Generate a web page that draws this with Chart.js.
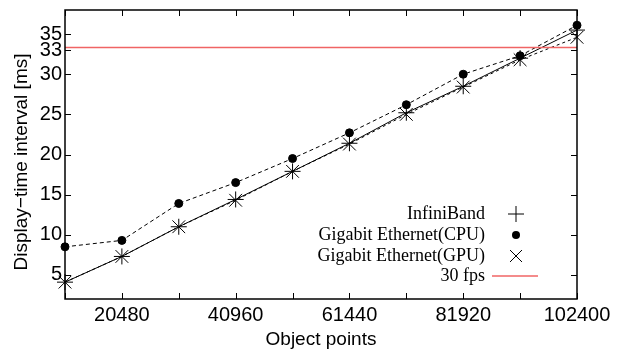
<!DOCTYPE html>
<html>
<head>
<meta charset="utf-8">
<script src="https://cdn.jsdelivr.net/npm/chart.js@4.4.1/dist/chart.umd.min.js"></script>
<style>
html,body{margin:0;padding:0;background:#fff;}
#wrap{width:621px;height:356px;}
</style>
</head>
<body>
<div id="wrap"><canvas id="c" width="621" height="356"></canvas></div>
<script>
const objectPoints = [10240, 20480, 30720, 40960, 51200, 61440, 71680, 81920, 92160, 102400];
const infiniBand = [4.1, 7.3, 11.0, 14.4, 17.9, 21.4, 25.2, 28.5, 32.0, 35.5];
const gigeCPU = [8.5, 9.3, 13.9, 16.5, 19.5, 22.7, 26.2, 30.0, 32.3, 36.1];
const gigeGPU = [4.1, 7.3, 11.0, 14.3, 17.9, 21.3, 25.0, 28.4, 31.8, 34.6];
const fps30 = 33.33;
const xTickLabels = [20480, 40960, 61440, 81920, 102400];
const yTickLabels = [5, 10, 15, 20, 25, 30, 33, 35];
const legendNames = ['InfiniBand', 'Gigabit Ethernet(CPU)', 'Gigabit Ethernet(GPU)', '30 fps'];
const yTitle = 'Display\u2212time interval [ms]';
const xTitle = 'Object points';

const pts = arr => objectPoints.map((x, i) => ({x: x, y: arr[i]}));
const RED = '#f06464';
const SANS = '"Liberation Sans", Arial, sans-serif';

const framePlugin = {
  id: 'frame',
  afterDraw(chart) {
    const ctx = chart.ctx, a = chart.chartArea;
    const xs = chart.scales.x, ys = chart.scales.y;
    ctx.save();
    ctx.strokeStyle = '#000';
    ctx.lineWidth = 1.5;
    ctx.strokeRect(a.left, a.top, a.right - a.left, a.bottom - a.top);
    ctx.lineWidth = 1;
    const tl = 6;
    ctx.beginPath();
    objectPoints.forEach(v => {
      const px = Math.round(xs.getPixelForValue(v)) + 0.5;
      ctx.moveTo(px, a.bottom); ctx.lineTo(px, a.bottom - tl);
      ctx.moveTo(px, a.top); ctx.lineTo(px, a.top + tl);
    });
    yTickLabels.forEach(v => {
      const py = Math.round(ys.getPixelForValue(v)) + 0.5;
      ctx.moveTo(a.left, py); ctx.lineTo(a.left + tl, py);
      ctx.moveTo(a.right, py); ctx.lineTo(a.right - tl, py);
    });
    ctx.stroke();

    // y axis title
    ctx.save();
    ctx.translate(22, 162);
    ctx.rotate(-Math.PI / 2);
    ctx.font = '19px ' + SANS;
    ctx.fillStyle = '#000';
    ctx.textAlign = 'center';
    ctx.textBaseline = 'middle';
    ctx.fillText(yTitle, 0, 0);
    ctx.restore();

    // legend (gnuplot style)
    ctx.font = '18px "Liberation Serif", "Times New Roman", serif';
    ctx.fillStyle = '#000';
    ctx.textAlign = 'right';
    ctx.textBaseline = 'middle';
    const textRight = 485, symX = 516;
    const rows = [214, 235, 256, 276];
    legendNames.forEach((n, i) => ctx.fillText(n, textRight, rows[i]));
    ctx.strokeStyle = '#000';
    ctx.lineWidth = 1;
    ctx.beginPath();
    ctx.moveTo(symX - 8, rows[0]); ctx.lineTo(symX + 8, rows[0]);
    ctx.moveTo(symX, rows[0] - 8); ctx.lineTo(symX, rows[0] + 8);
    ctx.moveTo(symX - 6, rows[2] - 6); ctx.lineTo(symX + 6, rows[2] + 6);
    ctx.moveTo(symX + 6, rows[2] - 6); ctx.lineTo(symX - 6, rows[2] + 6);
    ctx.stroke();
    ctx.beginPath();
    ctx.arc(symX, rows[1], 4, 0, Math.PI * 2);
    ctx.fill();
    ctx.strokeStyle = RED;
    ctx.lineWidth = 1.5;
    ctx.beginPath();
    ctx.moveTo(492, rows[3]); ctx.lineTo(538, rows[3]);
    ctx.stroke();
    ctx.restore();
  }
};

new Chart(document.getElementById('c'), {
  type: 'scatter',
  data: {
    datasets: [
      {label: legendNames[3], data: [{x: objectPoints[0], y: fps30}, {x: objectPoints[objectPoints.length - 1], y: fps30}],
       showLine: true, borderColor: RED, borderWidth: 1.5, pointRadius: 0},
      {label: legendNames[1], data: pts(gigeCPU), showLine: true, borderColor: '#000', borderWidth: 1,
       borderDash: [4, 3], pointStyle: 'circle', pointRadius: 4, pointBackgroundColor: '#000', pointBorderColor: '#000'},
      {label: legendNames[2], data: pts(gigeGPU), showLine: true, borderColor: '#000', borderWidth: 1,
       borderDash: [3, 3], pointStyle: 'crossRot', pointRadius: 9, pointBorderColor: '#000', pointBorderWidth: 1},
      {label: legendNames[0], data: pts(infiniBand), showLine: true, borderColor: '#000', borderWidth: 1,
       pointStyle: 'cross', pointRadius: 8, pointBorderColor: '#000', pointBorderWidth: 1}
    ]
  },
  options: {
    responsive: false,
    animation: false,
    clip: false,
    layout: {padding: {left: 0, top: 5, right: 44, bottom: 0}},
    plugins: {legend: {display: false}, tooltip: {enabled: false}},
    scales: {
      x: {
        type: 'linear', min: 10240, max: 102400,
        afterBuildTicks: s => { s.ticks = xTickLabels.map(v => ({value: v})); },
        afterFit: s => { s.height = 57; s.paddingLeft = 0; s.paddingRight = 0; },
        grid: {display: false, drawTicks: false},
        border: {display: false},
        ticks: {color: '#000', padding: 4, maxRotation: 0, autoSkip: false,
                callback: v => String(v),
                font: {family: SANS, size: 20}},
        title: {display: true, text: xTitle, color: '#000', padding: 5,
                font: {family: SANS, size: 19}}
      },
      y: {
        type: 'linear', min: 2, max: 38,
        afterBuildTicks: s => { s.ticks = yTickLabels.map(v => ({value: v})); },
        afterFit: s => { s.width = 65; s.paddingTop = 0; s.paddingBottom = 0; },
        grid: {display: false, drawTicks: false},
        border: {display: false},
        ticks: {color: '#000', padding: 3, autoSkip: false,
                callback: v => String(v),
                font: {family: SANS, size: 20}},
        title: {display: false}
      }
    }
  },
  plugins: [framePlugin]
});
</script>
</body>
</html>
